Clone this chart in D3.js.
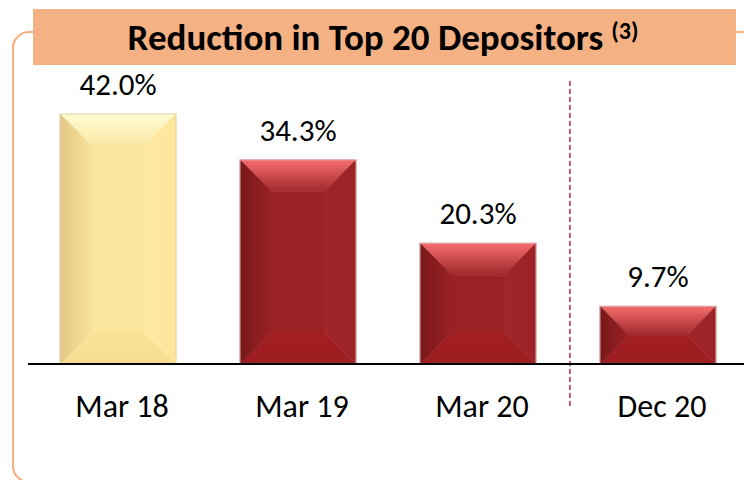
<!DOCTYPE html>
<html>
<head>
<meta charset="utf-8">
<script src="https://cdn.jsdelivr.net/npm/d3@7"></script>
<style>
  body { margin: 0; background: #fff; }
  svg { display: block; font-family: Carlito, Calibri, Lato, "Open Sans", sans-serif; }
</style>
</head>
<body>
<div id="chart"></div>
<script>
// data
var categories = ['Mar 18', 'Mar 19', 'Mar 20', 'Dec 20'];
var values = [42.0, 34.3, 20.3, 9.7];
var valueLabels = ['42.0%', '34.3%', '20.3%', '9.7%'];
var title = 'Reduction in Top 20 Depositors';
var titleNote = '(3)';

var W = 744, H = 480;
var base = 364;

var svg = d3.select('#chart').append('svg').attr('width', W).attr('height', H);

// gradients for the bevelled bars
var schemes = {
  red:    { center:'#9A2124', top:['#F56D6D','#A1292C'], left:['#7A181A','#992124'], right:['#A0262A','#9B2225'], bottom:['#A21E21','#9D1E21'], edge:'#D8B0B0' },
  yellow: { center:'#FCE59D', top:['#FFFBD2','#FBE8A4'], left:['#E2C884','#FAE29B'], right:['#FFE8A1','#FDE59C'], bottom:['#FAE297','#F7DD92'], edge:'#E3D3A6' }
};
var defs = svg.append('defs');
Object.keys(schemes).forEach(function(k) {
  var s = schemes[k];
  [['top',0,0,0,1],['bottom',0,0,0,1],['left',0,0,1,0],['right',0,0,1,0]].forEach(function(g) {
    var lg = defs.append('linearGradient').attr('id', k + '-' + g[0])
      .attr('x1', g[1]).attr('y1', g[2]).attr('x2', g[3]).attr('y2', g[4]);
    lg.append('stop').attr('offset', 0).attr('stop-color', s[g[0]][0]);
    lg.append('stop').attr('offset', 1).attr('stop-color', s[g[0]][1]);
  });
});

// frame
var frame = d3.path();
frame.moveTo(33, 32);
frame.lineTo(29, 32);
frame.arcTo(13, 32, 13, 48, 16);
frame.lineTo(13, 466);
frame.arcTo(13, 482, 29, 482, 16);
frame.lineTo(W + 5, 482);
svg.append('path').attr('d', frame.toString()).attr('fill', 'none')
  .attr('stroke', '#F4B183').attr('stroke-width', 2.2);
svg.append('line').attr('x1', 736).attr('x2', W).attr('y1', 32).attr('y2', 32)
  .attr('stroke', '#F4B183').attr('stroke-width', 2.2);

// title banner
svg.append('rect').attr('x', 33).attr('y', 9).attr('width', 703).attr('height', 56).attr('fill', '#F4B183');
var t = svg.append('text').attr('x', 383).attr('y', 50).attr('text-anchor', 'middle')
  .attr('font-weight', 'bold').attr('font-size', 37).attr('fill', '#000');
t.append('tspan').text(title);
t.append('tspan').attr('dx', 8).attr('dy', -11).attr('font-size', 24).text(titleNote);

// scales
var x = d3.scaleBand().domain(categories).range([28, 748]).paddingInner(0.3556).paddingOuter(0.178);
var y = d3.scaleLinear().domain([0, 42]).range([base, 114]);

// divider between annual and Dec 20
var divX = x('Dec 20') - x.step() * x.paddingInner() / 2 + 2;
svg.append('line').attr('x1', divX).attr('x2', divX).attr('y1', 81).attr('y2', 408)
  .attr('stroke', '#C8245E').attr('stroke-width', 1.5).attr('stroke-dasharray', '5,3');

// bars
var bars = svg.selectAll('g.bar').data(values).enter().append('g').attr('class', 'bar');
bars.each(function(v, i) {
  var g = d3.select(this);
  var k = i === 0 ? 'yellow' : 'red';
  var s = schemes[k];
  var x0 = x(categories[i]), x1 = x0 + x.bandwidth();
  var y0 = y(v), y1 = y(0);
  var d = Math.min(32, (y1 - y0) / 2);
  var faces = [
    ['url(#' + k + '-top)', [[x0,y0],[x1,y0],[x1-d,y0+d],[x0+d,y0+d]]],
    ['url(#' + k + '-bottom)', [[x0,y1],[x1,y1],[x1-d,y1-d],[x0+d,y1-d]]],
    ['url(#' + k + '-left)', [[x0,y0],[x0+d,y0+d],[x0+d,y1-d],[x0,y1]]],
    ['url(#' + k + '-right)', [[x1,y0],[x1-d,y0+d],[x1-d,y1-d],[x1,y1]]],
    [s.center, [[x0+d,y0+d],[x1-d,y0+d],[x1-d,y1-d],[x0+d,y1-d]]]
  ];
  faces.forEach(function(f) {
    g.append('polygon').attr('points', f[1].map(function(p) { return p.join(','); }).join(' '))
      .attr('fill', f[0]).attr('stroke', f[0]).attr('stroke-width', 0.5);
  });
  g.append('rect').attr('x', x0).attr('y', y0).attr('width', x1 - x0).attr('height', y1 - y0)
    .attr('fill', 'none').attr('stroke', s.edge).attr('stroke-width', 1);
});

// value labels
svg.selectAll('text.val').data(values).enter().append('text').attr('class', 'val')
  .attr('x', function(d, i) { return x(categories[i]) + x.bandwidth() / 2; })
  .attr('y', function(d) { return y(d) - 19; })
  .attr('text-anchor', 'middle').attr('font-size', 31).attr('fill', '#000')
  .text(function(d, i) { return valueLabels[i]; });

// axis
var axis = svg.append('g').attr('transform', 'translate(0,' + base + ')')
  .call(d3.axisBottom(x).tickSize(0).tickPadding(0));
axis.select('.domain').remove();
axis.append('line').attr('x1', 28).attr('x2', W).attr('y1', 0).attr('y2', 0)
  .attr('stroke', '#000').attr('stroke-width', 2);
axis.selectAll('.tick text').attr('font-size', 32).attr('fill', '#000')
  .attr('font-family', 'Carlito, Calibri, Lato, "Open Sans", sans-serif')
  .attr('dy', 0).attr('y', 53).attr('dx', 4);
</script>
</body>
</html>
